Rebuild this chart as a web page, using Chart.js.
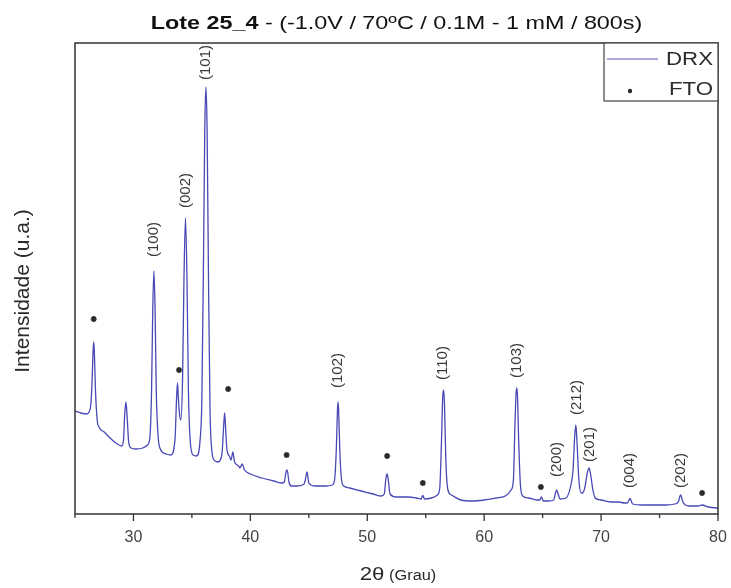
<!DOCTYPE html>
<html>
<head>
<meta charset="utf-8">
<script src="https://cdn.jsdelivr.net/npm/chart.js@4.4.1/dist/chart.umd.min.js"></script>
<style>
  html, body { margin: 0; padding: 0; background: #fff; }
  #wrap { width: 731px; height: 588px; position: relative; }
</style>
</head>
<body>
<div id="wrap"><canvas id="drx" width="731" height="588"></canvas></div>
<script>
// 2θ (degrees) and intensity (a.u.)
const twoTheta = [
  25.0, 25.5, 26.0, 26.2, 26.35, 26.45, 26.55, 26.6, 26.65, 26.75, 26.9, 27.1, 27.5, 28.0, 28.5, 29.0,
  29.15, 29.25, 29.35, 29.45, 29.6, 29.8, 30.2, 30.8, 31.2,
  31.4, 31.55, 31.65, 31.75, 31.85, 31.95, 32.1, 32.3, 32.8, 33.2,
  33.55, 33.7, 33.77, 33.85, 33.95, 34.05, 34.2, 34.32, 34.45, 34.58, 34.7, 34.85, 35.1, 35.4, 35.7,
  35.85, 36.0, 36.1, 36.2, 36.3, 36.42, 36.55, 36.7, 36.9, 37.2, 37.5,
  37.6, 37.72, 37.8, 37.88, 38.0, 38.2, 38.35, 38.5, 38.65, 39.0, 39.1, 39.3, 39.5,
  40.0, 41.0, 42.0, 42.7, 42.9, 43.05, 43.15, 43.3, 43.5, 44.0, 44.6, 44.7, 44.85, 45.0, 45.5, 46.5, 47.0,
  47.2, 47.35, 47.45, 47.5, 47.55, 47.65, 47.8, 48.0, 48.5, 49.5, 50.5, 51.2,
  51.45, 51.6, 51.7, 51.8, 51.95, 52.5, 53.5, 54.2, 54.6, 54.75, 54.9, 55.5, 56.0,
  56.2, 56.35, 56.45, 56.52, 56.6, 56.72, 56.9, 57.2, 58.0, 59.0, 60.0, 61.0, 61.8, 62.3,
  62.5, 62.62, 62.72, 62.78, 62.85, 62.95, 63.1, 63.3, 63.8, 64.5, 64.75, 64.9, 65.05, 65.5,
  65.95, 66.1, 66.2, 66.3, 66.5, 67.0, 67.5, 67.6, 67.75, 67.84, 67.93, 68.1, 68.3, 68.4,
  68.6, 68.8, 68.97, 69.1, 69.3, 69.5, 70.0, 70.8, 71.5, 72.0, 72.25, 72.47, 72.7,
  73.5, 74.5, 75.5, 76.3, 76.6, 76.8, 77.0, 77.5, 78.3, 78.64, 79.2, 80.0
];
const intensity = [
  103, 101, 100, 102, 109, 129, 164, 172, 164, 124, 94, 86, 82, 76, 71, 68,
  74, 99, 112, 99, 71, 66, 65, 66, 69,
  76, 124, 204, 243, 204, 124, 79, 65, 60, 59,
  74, 119, 131, 114, 99, 94, 134, 234, 296, 234, 124, 74, 59, 58, 74,
  114, 264, 384, 427, 384, 234, 104, 64, 54, 52, 56,
  64, 89, 101, 86, 64, 58, 54, 62, 52, 48, 46, 50, 44,
  40, 36, 33, 31, 32, 42, 44, 32, 28, 28, 30, 34, 42, 31, 28, 28, 29,
  34, 64, 104, 112, 104, 64, 34, 28, 26, 23, 20, 18,
  20, 36, 40, 34, 20, 17, 17, 16, 15, 18.5, 15, 16, 19,
  26, 74, 116, 124, 112, 54, 24, 19, 14, 13, 14, 16, 18, 24,
  34, 84, 119, 126, 118, 74, 29, 18, 16, 14, 14, 17, 13, 13,
  14, 21, 24, 21, 15, 16, 34, 44, 79, 89, 74, 34, 21, 21,
  26, 40, 46, 40, 24, 16, 14, 12, 12, 11, 11, 15.5, 10,
  9, 9, 9, 10, 12, 19, 12, 8, 8, 9, 7, 6
];

// peak indexation (hkl) and where each label starts (bottom of the rotated text)
const hklLabels = ['(100)', '(002)', '(101)', '(102)', '(110)', '(103)', '(200)', '(212)', '(201)', '(004)', '(202)'];
const hklTheta = [31.75, 34.45, 36.2, 47.5, 56.5, 62.78, 66.2, 67.9, 69.05, 72.47, 76.8];
const hklLabelY = [257, 306, 434, 126, 134, 136, 37, 99, 52, 26, 26];

// FTO substrate reflections (marked with *)
const ftoTheta = [26.6, 33.9, 38.1, 43.1, 51.7, 54.75, 64.85, 78.64];
const ftoY = [195, 144, 125, 59, 58, 31, 27, 21];

const xTicks = [30, 40, 50, 60, 70, 80];
const xMinorTicks = [25, 35, 45, 55, 65, 75];

const FONT = '"Liberation Sans", Arial, sans-serif';
const LINE = '#4848b6';
const INK = '#2a2a2a';
const STRETCH = 1.17; // the original text is a little wider than plain Arial

// draws text stretched horizontally, anchored at x by align
function wideText(ctx, text, x, y, align, k = STRETCH) {
  const w = ctx.measureText(text).width * k;
  let left = x;
  if (align === 'center') left = x - w / 2;
  if (align === 'right') left = x - w;
  ctx.save();
  ctx.translate(left, y);
  ctx.scale(k, 1);
  ctx.textAlign = 'left';
  ctx.fillText(text, 0, 0);
  ctx.restore();
  return w;
}

const decorations = {
  id: 'decorations',
  afterDraw(chart) {
    const { ctx, chartArea: a, scales } = chart;
    const x = scales.x, y = scales.y;
    ctx.save();

    // frame
    ctx.strokeStyle = '#333';
    ctx.lineWidth = 1.5;
    ctx.strokeRect(a.left, a.top, a.right - a.left, a.bottom - a.top);

    // ticks below the axis
    ctx.lineWidth = 1.3;
    ctx.beginPath();
    xTicks.forEach(v => { const p = x.getPixelForValue(v); ctx.moveTo(p, a.bottom); ctx.lineTo(p, a.bottom + 7); });
    xMinorTicks.forEach(v => { const p = x.getPixelForValue(v); ctx.moveTo(p, a.bottom); ctx.lineTo(p, a.bottom + 4); });
    ctx.stroke();

    // hkl labels
    ctx.fillStyle = '#3a3a3a';
    ctx.font = '15px ' + FONT;
    ctx.textAlign = 'left';
    ctx.textBaseline = 'middle';
    hklLabels.forEach((t, i) => {
      ctx.save();
      ctx.translate(x.getPixelForValue(hklTheta[i]), y.getPixelForValue(hklLabelY[i]));
      ctx.rotate(-Math.PI / 2);
      ctx.fillText(t, 0, 0);
      ctx.restore();
    });

    // legend box
    const lx = 604, ly = a.top, lw = a.right - 604, lh = 58;
    ctx.fillStyle = '#fff';
    ctx.fillRect(lx, ly, lw, lh);
    ctx.strokeStyle = '#444';
    ctx.lineWidth = 1.2;
    ctx.strokeRect(lx, ly, lw, lh);
    ctx.strokeStyle = '#8c8cd2';
    ctx.lineWidth = 1.3;
    ctx.beginPath(); ctx.moveTo(607, 59); ctx.lineTo(658, 59); ctx.stroke();
    ctx.fillStyle = INK;
    ctx.font = '19px ' + FONT;
    ctx.textBaseline = 'middle';
    wideText(ctx, 'DRX', a.right - 5, 60, 'right');
    wideText(ctx, 'FTO', a.right - 5, 90, 'right');
    ctx.beginPath(); ctx.arc(630, 91, 2.2, 0, Math.PI * 2); ctx.fill();

    // title
    ctx.textBaseline = 'alphabetic';
    const bold = 'Lote 25_4', rest = ' - (-1.0V / 70ºC / 0.1M - 1 mM / 800s)';
    const kt = 1.23;
    ctx.font = 'bold 19px ' + FONT;
    const wb = ctx.measureText(bold).width * kt;
    ctx.font = '19px ' + FONT;
    const wr = ctx.measureText(rest).width * kt;
    const tx = (a.left + a.right) / 2 - (wb + wr) / 2;
    ctx.fillStyle = '#111';
    ctx.font = 'bold 19px ' + FONT;
    wideText(ctx, bold, tx, 29, 'left', kt);
    ctx.font = '19px ' + FONT;
    wideText(ctx, rest, tx + wb, 29, 'left', kt);

    // x axis title
    ctx.fillStyle = INK;
    const p1 = '2θ', p2 = ' (Grau)';
    ctx.font = '19px ' + FONT;
    const w1 = ctx.measureText(p1).width * STRETCH;
    ctx.font = '14px ' + FONT;
    const w2 = ctx.measureText(p2).width * STRETCH;
    const xx = 398 - (w1 + w2) / 2;
    ctx.font = '19px ' + FONT;
    wideText(ctx, p1, xx, 580, 'left');
    ctx.font = '14px ' + FONT;
    wideText(ctx, p2, xx + w1, 580, 'left');

    // y axis title
    ctx.save();
    ctx.translate(23, 291);
    ctx.rotate(-Math.PI / 2);
    ctx.textAlign = 'center';
    ctx.textBaseline = 'middle';
    ctx.font = '21px ' + FONT;
    ctx.fillText('Intensidade (u.a.)', 0, 0);
    ctx.restore();

    ctx.restore();
  }
};

new Chart(document.getElementById('drx'), {
  type: 'line',
  data: {
    datasets: [
      {
        label: 'DRX',
        data: twoTheta.map((t, i) => ({ x: t, y: intensity[i] })),
        borderColor: LINE,
        borderWidth: 1.3,
        pointRadius: 0,
        cubicInterpolationMode: 'monotone',
        fill: false
      },
      {
        label: 'FTO',
        type: 'scatter',
        data: ftoTheta.map((t, i) => ({ x: t, y: ftoY[i] })),
        pointStyle: 'star',
        pointRadius: 3,
        borderColor: INK,
        borderWidth: 1.6,
        backgroundColor: INK
      }
    ]
  },
  options: {
    responsive: false,
    animation: false,
    layout: { padding: { left: 75, right: 13, top: 43, bottom: 0 } },
    plugins: { legend: { display: false }, tooltip: { enabled: false } },
    scales: {
      x: {
        type: 'linear',
        min: 25,
        max: 80,
        afterBuildTicks: s => { s.ticks = xTicks.map(v => ({ value: v })); },
        afterFit: s => { s.height = 74; s.paddingLeft = 0; s.paddingRight = 0; },
        grid: { display: false, drawTicks: false },
        border: { display: false },
        ticks: { color: '#444', font: { family: FONT, size: 16 }, padding: 14 }
      },
      y: {
        display: false,
        min: 0,
        max: 471
      }
    }
  },
  plugins: [decorations]
});
</script>
</body>
</html>
